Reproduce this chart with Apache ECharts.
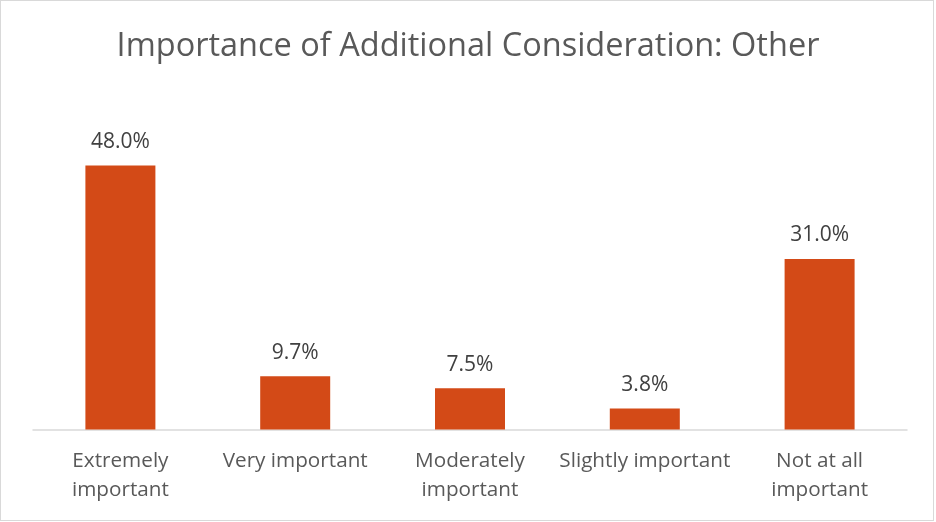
<!DOCTYPE html>
<html>
<head>
<meta charset="utf-8">
<script src="https://cdn.jsdelivr.net/npm/echarts@6/dist/echarts.min.js"></script>
<style>
  html, body { margin: 0; padding: 0; background: #fff; }
  #wrap { position: relative; width: 936px; height: 522px; }
  #chart { width: 936px; height: 522px; }
  #frame { position: absolute; left: 0; top: 0; width: 932px; height: 519px; border: 1px solid #d9d9d9; pointer-events: none; }
</style>
</head>
<body>
<div id="wrap">
  <div id="chart"></div>
  <div id="frame"></div>
</div>
<script>
const titleText = 'Importance of Additional Consideration: Other';
const categories = ['Extremely\nimportant', 'Very important', 'Moderately\nimportant', 'Slightly important', 'Not at all\nimportant'];
const shares = [48.0, 9.7, 7.5, 3.8, 31.0];

const chart = echarts.init(document.getElementById('chart'));
const option = {
  animation: false,
  title: {
    text: titleText,
    left: 'center',
    top: 25,
    textStyle: {
      fontFamily: 'Open Sans',
      fontSize: 32.5,
      fontWeight: 'normal',
      color: '#595959'
    }
  },
  grid: {
    left: 33,
    right: 29,
    top: 99.5,
    bottom: 92.5
  },
  xAxis: {
    type: 'category',
    data: categories,
    axisTick: { show: false },
    axisLine: { lineStyle: { color: '#d9d9d9', width: 1.5 } },
    axisLabel: {
      interval: 0,
      margin: 17,
      fontFamily: 'Open Sans',
      fontSize: 20.7,
      lineHeight: 29,
      color: '#595959'
    }
  },
  yAxis: {
    type: 'value',
    min: 0,
    max: 60,
    show: false
  },
  series: [{
    type: 'bar',
    data: shares,
    barWidth: 70,
    itemStyle: { color: '#D34A17' },
    label: {
      show: true,
      position: 'top',
      distance: 13,
      formatter: p => p.value.toFixed(1) + '%',
      fontFamily: 'Open Sans',
      fontSize: 21,
      color: '#404040'
    }
  }]
};
chart.setOption(option);
</script>
</body>
</html>
